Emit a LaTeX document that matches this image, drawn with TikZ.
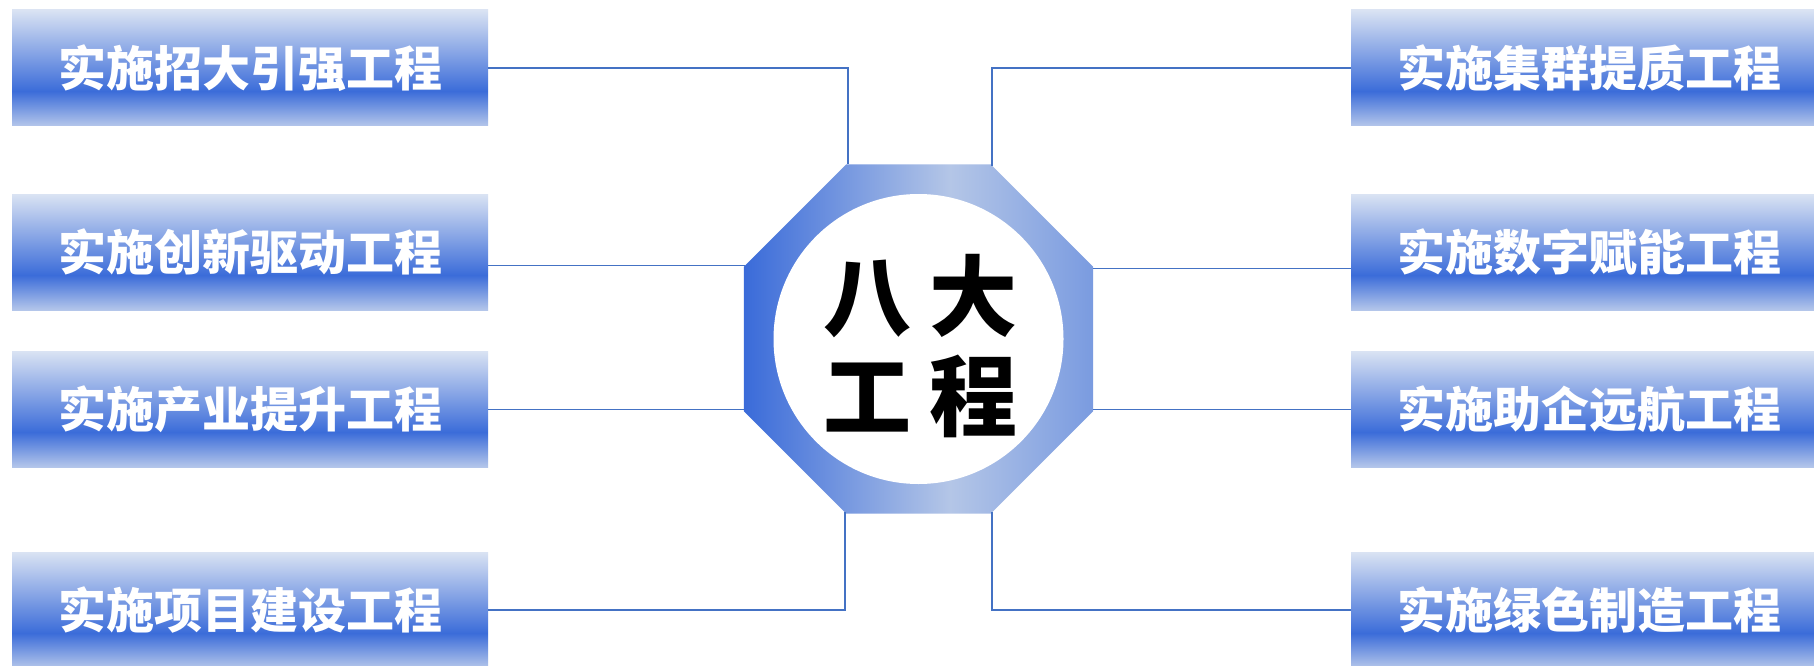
\documentclass[tikz,border=0pt]{standalone}
\usepackage{fontspec}
\newfontfamily\cjk{Noto Sans CJK SC}
\usetikzlibrary{shapes.geometric}
\definecolor{bxTop}{HTML}{DAE3F3}
\definecolor{bxDark}{HTML}{3B6CD9}
\definecolor{bxBot}{HTML}{B4C6EA}
\definecolor{ocLeft}{HTML}{3A6BD9}
\definecolor{ocLight}{HTML}{B4C6E7}
\definecolor{ocRight}{HTML}{7A9BE0}
\definecolor{lineBlue}{HTML}{4472C4}
\pgfdeclareverticalshading{boxshade}{100bp}{color(0bp)=(bxBot); color(25bp)=(bxBot); color(40bp)=(bxDark); color(75bp)=(bxTop); color(100bp)=(bxTop)}
\pgfdeclarehorizontalshading{octshade}{100bp}{color(0bp)=(ocLeft); color(25bp)=(ocLeft); color(54.5bp)=(ocLight); color(75bp)=(ocRight); color(100bp)=(ocRight)}
\tikzset{
  projbox/.style={rectangle, minimum width=476pt, minimum height=116pt, inner sep=0pt, outer sep=0pt,
    shade, shading=boxshade, text=white, font=\cjk\bfseries\fontsize{48pt}{48pt}\selectfont},
  conn/.style={draw=lineBlue, line width=1.3pt},
}
\begin{document}
\begin{tikzpicture}[x=1pt,y=1pt]
\useasboundingbox (0,0) rectangle (1814,-666);
\clip (0,0) rectangle (1814,-666);
\fill[white] (0,0) rectangle (1814,-666);
% left boxes
\node[projbox] (L1) at (250,-68) {\raisebox{-4pt}{实施招大引强工程}};
\node[projbox] (L2) at (250,-252) {\raisebox{-4pt}{实施创新驱动工程}};
\node[projbox] (L3) at (250,-409) {\raisebox{-4pt}{实施产业提升工程}};
\node[projbox] (L4) at (250,-610) {\raisebox{-4pt}{实施项目建设工程}};
% right boxes
\node[projbox] (R1) at (1589,-68) {\raisebox{-4pt}{实施集群提质工程}};
\node[projbox] (R2) at (1589,-252) {\raisebox{-4pt}{实施数字赋能工程}};
\node[projbox] (R3) at (1589,-409) {\raisebox{-4pt}{实施助企远航工程}};
\node[projbox] (R4) at (1589,-610) {\raisebox{-4pt}{实施绿色制造工程}};
% centre
\node[regular polygon, regular polygon sides=8, minimum size=377.8pt, inner sep=0pt, outer sep=0pt,
  shade, shading=octshade] (oct) at (918.5,-339) {};
\node[circle, fill=white, minimum size=290pt, inner sep=0pt] (disc) at (918.5,-339) {};
\node[align=center, inner sep=0pt, font=\cjk\bfseries\fontsize{88pt}{100pt}\selectfont] (title) at (920.5,-346)
  {八\hspace{18pt}大\\工\hspace{18pt}程};
% connectors
\draw[conn] (L1.east) -| (oct.112.5);
\draw[conn] (oct.157.5) -- (oct.157.5 -| L2.east);
\draw[conn] (oct.202.5) -- (oct.202.5 -| L3.east);
\draw[conn] (L4.east) -| (oct.247.5);
\draw[conn] (R1.west) -| (oct.67.5);
\draw[conn] (oct.22.5) -- (oct.22.5 -| R2.west);
\draw[conn] (oct.-22.5) -- (oct.-22.5 -| R3.west);
\draw[conn] (R4.west) -| (oct.-67.5);
\end{tikzpicture}
\end{document}
